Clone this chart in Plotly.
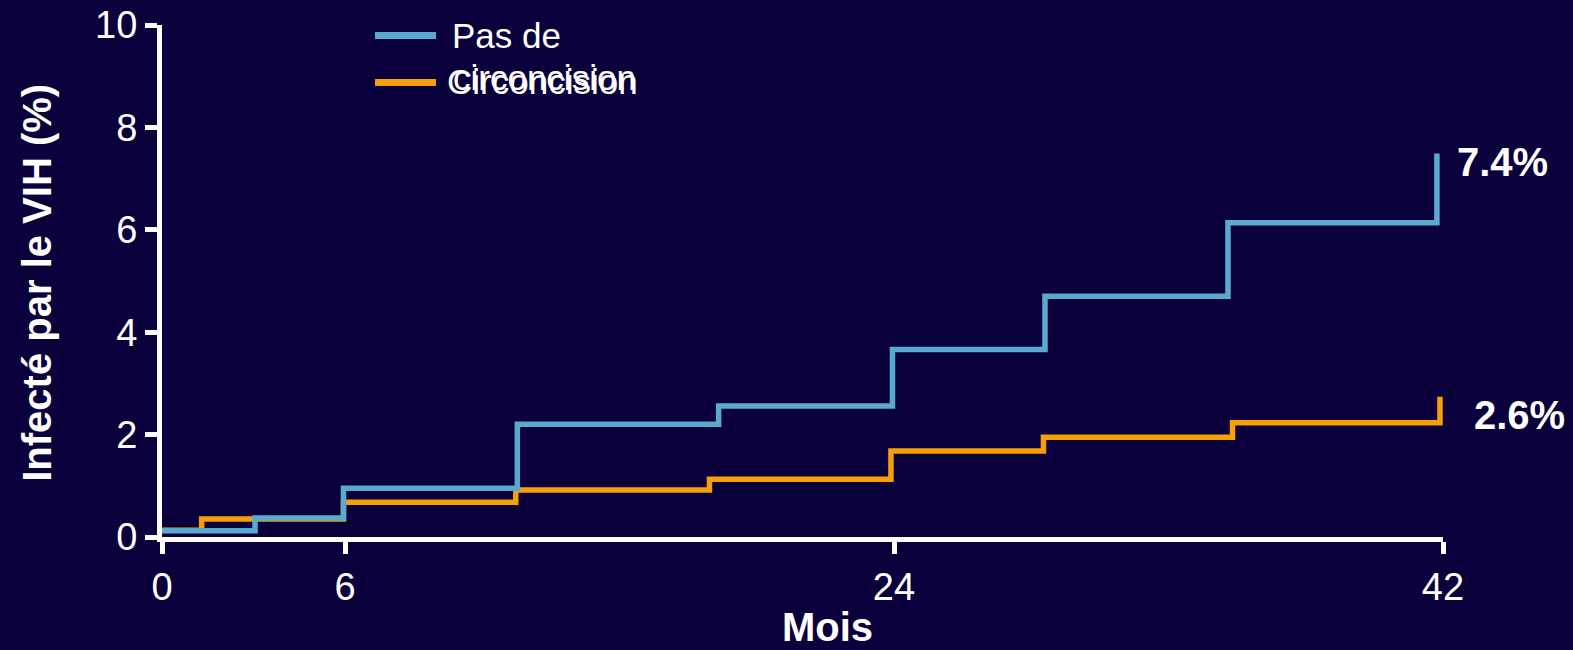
import plotly.graph_objects as go

# Data (months, cumulative HIV infection %)
months_ticks = [0, 6, 24, 42]
y_ticks = [0, 2, 4, 6, 8, 10]

no_circ_t = [0, 3.05, 5.95, 11.65, 18.25, 23.95, 28.95, 34.95, 41.8]
no_circ_y = [0.12, 0.37, 0.95, 2.2, 2.56, 3.66, 4.70, 6.14, 7.49]

circ_t = [0, 1.3, 5.95, 11.6, 17.95, 23.9, 28.9, 35.1, 41.9]
circ_y = [0.13, 0.35, 0.68, 0.92, 1.13, 1.68, 1.95, 2.23, 2.74]

end_labels = ["7.4%", "2.6%"]

BG = "#0a003c"
BLUE = "#5aaad0"
ORANGE = "#f5a00a"
FONT = "Liberation Sans, Arial, sans-serif"

fig = go.Figure()
fig.add_trace(go.Scatter(x=circ_t, y=circ_y, mode="lines", line_shape="hv",
                         line=dict(color=ORANGE, width=5.5), name="Circoncision",
                         showlegend=False))
fig.add_trace(go.Scatter(x=no_circ_t, y=no_circ_y, mode="lines", line_shape="hv",
                         line=dict(color=BLUE, width=5.5), name="Pas de circoncision",
                         showlegend=False))

# end labels
fig.add_annotation(x=no_circ_t[-1], y=7.33, text="<b>%s</b>" % end_labels[0],
                   showarrow=False, xanchor="left", yanchor="middle", xshift=18,
                   font=dict(family=FONT, size=40, color="white"))
fig.add_annotation(x=circ_t[-1], y=2.39, text="<b>%s</b>" % end_labels[1],
                   showarrow=False, xanchor="left", yanchor="middle", xshift=32,
                   font=dict(family=FONT, size=40, color="white"))

# pixel helpers for paper-referenced decorations (plot area: x 162..1443, y 25.5..537)
def px_x(p):
    return (p - 162) / 1281.0

def px_y(p):
    return (537 - p) / 511.5

# manual legend (reproducing the overlapping labels of the reference)
fig.add_shape(type="line", xref="paper", yref="paper", x0=px_x(375), x1=px_x(436),
              y0=px_y(36), y1=px_y(36), line=dict(color=BLUE, width=7))
fig.add_shape(type="line", xref="paper", yref="paper", x0=px_x(375), x1=px_x(436),
              y0=px_y(83), y1=px_y(83), line=dict(color=ORANGE, width=7))
fig.add_annotation(xref="paper", yref="paper", x=px_x(450), y=px_y(36), text="Pas de",
                   showarrow=False, xanchor="left", yanchor="middle",
                   font=dict(family=FONT, size=35, color="white"))
fig.add_annotation(xref="paper", yref="paper", x=px_x(451), y=px_y(78), text="circoncision",
                   showarrow=False, xanchor="left", yanchor="middle",
                   font=dict(family=FONT, size=35, color="white"))
fig.add_annotation(xref="paper", yref="paper", x=px_x(445), y=px_y(82), text="Circoncision",
                   showarrow=False, xanchor="left", yanchor="middle",
                   font=dict(family=FONT, size=35, color="white"))

# axis titles
fig.add_annotation(xref="paper", yref="paper", x=px_x(827), y=px_y(627), text="<b>Mois</b>",
                   showarrow=False, xanchor="center", yanchor="middle",
                   font=dict(family=FONT, size=40, color="white"))
fig.add_annotation(xref="paper", yref="paper", x=px_x(37), y=px_y(283),
                   text="<b>Infecté par le VIH (%)</b>", textangle=-90,
                   showarrow=False, xanchor="center", yanchor="middle",
                   font=dict(family=FONT, size=40, color="white"))

fig.update_layout(
    width=1573, height=650,
    paper_bgcolor=BG, plot_bgcolor=BG,
    margin=dict(l=162, r=130, t=25, b=113, autoexpand=False),
    font=dict(family=FONT, color="white"),
    showlegend=False,
)
fig.update_xaxes(range=[0, 42], tickvals=months_ticks, showgrid=False, zeroline=False,
                 automargin=False,
                 showline=True, linecolor="white", linewidth=5,
                 ticks="outside", ticklen=12, tickwidth=5, tickcolor="white",
                 tickfont=dict(family=FONT, size=38, color="white"))
fig.update_yaxes(range=[0, 10], tickvals=y_ticks, showgrid=False, zeroline=False,
                 automargin=False,
                 showline=True, linecolor="white", linewidth=5,
                 ticks="outside", ticklen=12, tickwidth=5, tickcolor="white",
                 tickfont=dict(family=FONT, size=38, color="white"))

fig.write_html("out.html",
               config={"displayModeBar": False},
               post_script="document.body.style.margin='0';"
                           "document.body.style.overflow='hidden';"
                           "document.body.style.background='%s';" % BG)
